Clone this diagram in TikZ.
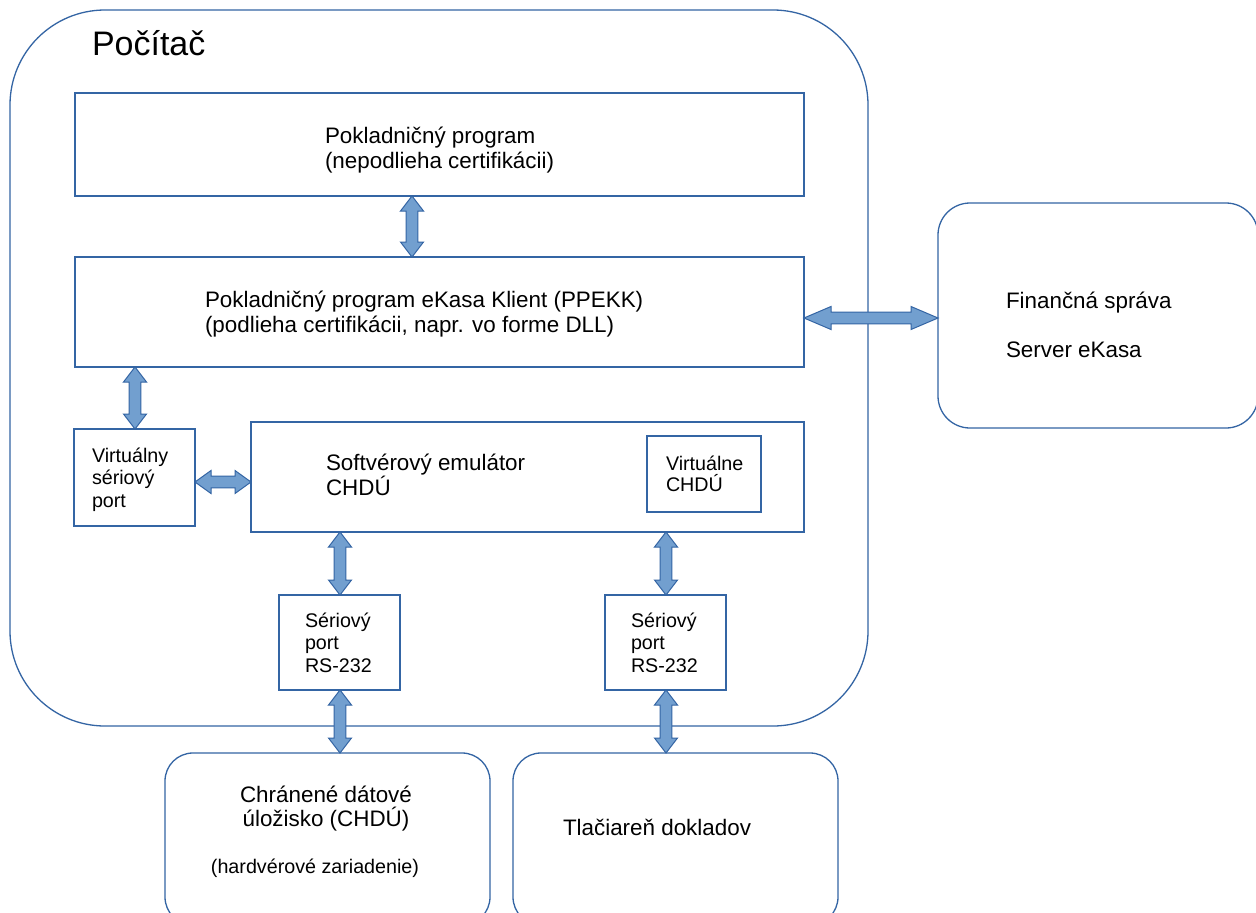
\documentclass[tikz,border=0pt]{standalone}
\usepackage{fontspec}
\setmainfont{Liberation Sans}
\usetikzlibrary{calc}
\definecolor{boxline}{HTML}{3465A4}
\definecolor{arrfill}{HTML}{729FCF}
\tikzset{
  box/.style={draw=boxline, line width=1.3pt, rectangle, inner sep=0pt, outer sep=0pt, anchor=north west},
  rbox/.style={box, rounded corners=#1},
  barrow/.style={draw=boxline, fill=arrfill, line width=1pt, line join=miter},
  txt/.style={inner sep=0pt, outer sep=0pt, text=black, font=\fontsize{22.4pt}{25pt}\selectfont},
  stxt/.style={inner sep=0pt, outer sep=0pt, text=black, font=\fontsize{19.7pt}{22.5pt}\selectfont},
}
\newcommand\blockarrow[3][15pt]{%
  \draw[barrow] (#2)
    -- ($($(#2)!#1!(#3)$)!11.5pt!90:(#3)$)
    -- ($($(#2)!#1!(#3)$)!5.8pt!90:(#3)$)
    -- ($($(#3)!#1!(#2)$)!5.8pt!-90:(#2)$)
    -- ($($(#3)!#1!(#2)$)!11.5pt!-90:(#2)$)
    -- (#3)
    -- ($($(#3)!#1!(#2)$)!11.5pt!90:(#2)$)
    -- ($($(#3)!#1!(#2)$)!5.8pt!90:(#2)$)
    -- ($($(#2)!#1!(#3)$)!5.8pt!-90:(#3)$)
    -- ($($(#2)!#1!(#3)$)!11.5pt!-90:(#3)$)
    -- cycle;}
\begin{document}
\begin{tikzpicture}[x=1pt, y=-1pt]
\useasboundingbox (0,0) rectangle (1256,913);
\clip (0,0) rectangle (1256,913);
\fill[white] (0,0) rectangle (1256,913);

% outer computer box
\node[rbox=95pt, minimum width=858pt, minimum height=716pt] (pc) at (10,10) {};
\node[txt, font=\fontsize{34pt}{38pt}\selectfont, anchor=base west] (pct) at (92,55) {Počítač};

% boxes
\node[box, minimum width=729pt, minimum height=103pt] (pp) at (75,93) {};
\node[box, minimum width=729pt, minimum height=110pt] (ppk) at (75,257) {};
\node[box, minimum width=121pt, minimum height=97pt] (vsp) at (74,429) {};
\node[box, minimum width=553pt, minimum height=110pt] (emu) at (251,422) {};
\node[box, minimum width=114pt, minimum height=76pt] (vchdu) at (647,436) {};
\node[box, minimum width=121pt, minimum height=95pt] (sp1) at (279,595) {};
\node[box, minimum width=121pt, minimum height=95pt] (sp2) at (605,595) {};
\node[rbox=32pt, minimum width=320pt, minimum height=225pt] (fin) at (938,203) {};
\node[rbox=28pt, minimum width=325pt, minimum height=172pt] (chdu) at (165,753) {};
\node[rbox=28pt, minimum width=325pt, minimum height=172pt] (tlac) at (513,753) {};

% texts
\node[txt, anchor=base west] (ppt) at (325,143) {\vtop{\hbox{Pokladničný program}\hbox{(nepodlieha certifikácii)}}};
\node[txt, anchor=base west] (ppkt) at (205,307) {\vtop{\hbox{Pokladničný program eKasa Klient (PPEKK)}\hbox{(podlieha certifikácii, napr. vo forme DLL)}}};
\node[stxt, anchor=base west] (vspt) at (92,462) {\vtop{\hbox{Virtuálny}\hbox{sériový}\hbox{port}}};
\node[txt, anchor=base west] (emut) at (326,470) {\vtop{\baselineskip=23pt\hbox{Softvérový emulátor}\hbox{CHDÚ}}};
\node[stxt, anchor=base west] (vchdut) at (666,470) {\vtop{\baselineskip=21pt\hbox{Virtuálne}\hbox{CHDÚ}}};
\node[stxt, anchor=base west] (sp1t) at (305,627) {\vtop{\hbox{Sériový}\hbox{port}\hbox{RS-232}}};
\node[stxt, anchor=base west] (sp2t) at (631,627) {\vtop{\hbox{Sériový}\hbox{port}\hbox{RS-232}}};
\node[txt, anchor=base west] (fint1) at (1006,308) {Finančná správa};
\node[txt, anchor=base west] (fint2) at (1006,357) {Server eKasa};
\node[txt, anchor=base] (chdut1) at (326,802) {Chránené dátové};
\node[txt, anchor=base] (chdut2) at (326,826) {úložisko (CHDÚ)};
\node[stxt, anchor=base] (chdut3) at (315,873) {(hardvérové zariadenie)};
\node[txt, anchor=base west] (tlact) at (563,835) {Tlačiareň dokladov};

% arrows
\blockarrow{[xshift=337pt]pp.south west}{[xshift=337pt]ppk.north west}
\blockarrow{[xshift=60pt]ppk.south west}{[xshift=61pt]vsp.north west}
\blockarrow[16pt]{[yshift=-53pt]vsp.north east}{[yshift=-60pt]emu.north west}
\blockarrow{[xshift=89pt]emu.south west}{[xshift=61pt]sp1.north west}
\blockarrow{[xshift=415pt]emu.south west}{[xshift=61pt]sp2.north west}
\blockarrow{[xshift=61pt]sp1.south west}{[xshift=175pt]chdu.north west}
\blockarrow{[xshift=61pt]sp2.south west}{[xshift=153pt]tlac.north west}
\blockarrow[27pt]{[yshift=-61pt]ppk.north east}{[yshift=-115pt]fin.north west}
\end{tikzpicture}
\end{document}
